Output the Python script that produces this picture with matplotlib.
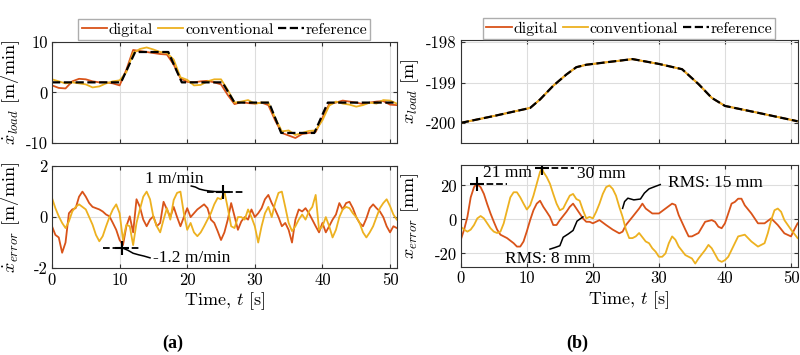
import numpy as np
import matplotlib
matplotlib.use("Agg")
import matplotlib.pyplot as plt

plt.rcParams["font.family"] = "cmr10"
plt.rcParams["font.serif"] = ["Liberation Serif", "DejaVu Serif"]
plt.rcParams["mathtext.fontset"] = "cm"
plt.rcParams["axes.unicode_minus"] = False
plt.rcParams["axes.formatter.use_mathtext"] = False

c_dig = "#D95319"
c_conv = "#EDB120"

# ---- (a) load velocity [m/min] ----
t1 = np.arange(0, 52, 1.0)
vel_dig = [1.4, 0.9, 0.8, 2.2, 2.7, 2.6, 2.2, 2.0, 2.0, 1.8, 1.4, 4.5, 8.4, 8.2, 8.0, 7.8, 7.6, 7.5,
           5.5, 2.8, 2.1, 2.0, 2.2, 2.3, 2.0, 1.6, -0.5, -2.3, -1.9, -2.1, -2.2, -2.0, -2.5, -5.5,
           -8.0, -8.5, -9.0, -8.2, -8.0, -7.8, -5.0, -2.3, -2.0, -1.6, -1.8, -2.0, -2.3, -2.0,
           -1.8, -1.7, -2.4, -2.5]
vel_conv = [2.6, 2.2, 1.8, 2.0, 1.8, 1.6, 1.0, 1.2, 1.8, 2.2, 2.4, 4.0, 7.8, 8.6, 8.9, 8.5, 8.0, 7.8,
            6.5, 3.0, 2.5, 1.4, 1.5, 2.2, 2.6, 2.6, 0.5, -2.0, -1.8, -1.5, -2.2, -2.0, -2.0, -5.0,
            -7.7, -7.5, -8.4, -8.0, -7.6, -7.5, -5.5, -2.6, -1.8, -2.2, -2.4, -2.8, -2.5, -2.0,
            -2.2, -1.5, -1.6, -2.2]
t_ref = [0, 10.2, 12.3, 17.2, 19.2, 25.2, 27.0, 32.1, 33.9, 38.8, 40.8, 51]
vel_ref = [2, 2, 8, 8, 2, 2, -2, -2, -8, -8, -2, -2]

# velocity error [m/min], every 0.5 s
t2 = np.arange(0, 51.5, 0.5)
verr_dig = [-0.36, -0.7, -0.8, -1.4, -1.0, 0.15, 0.3, 0.35, 0.8, 1.0, 0.8, 0.55, 0.4, 0.35, 0.3,
            0.22, 0.1, 0.03, -0.23, -0.5, -0.9, -1.1, -0.36, 0.03, -0.6, 0.7, 0.4, -0.1, -0.36,
            -0.1, 0.03, -0.36, -0.23, 0.6, 0.3, 0.0, 0.4, 0.0, -0.36, 0.0, 0.35, 0.0, 0.15, 0.3,
            0.4, 0.5, 0.35, -0.1, -0.23, -0.55, -0.9, -0.6, -0.1, 0.55, 0.03, -0.5, -0.17, 0.0,
            -0.1, 0.3, 0.0, 0.15, 0.35, 0.7, 0.87, 0.55, 0.3, 0.0, -0.36, -0.23, -0.5, -1.0,
            -0.1, 0.3, 0.22, 0.35, 0.15, -0.1, -0.36, -0.6, -0.23, -0.6, -0.36, -0.1, 0.1, 0.55,
            0.3, 0.55, 0.6, 0.35, 0.0, -0.23, -0.36, -0.05, 0.35, 0.5, 0.35, 0.22, 0.0, -0.36,
            -0.6, -0.36, -0.43]
verr_conv = [0.75, 0.35, 0.03, -0.23, -0.43, -0.17, 0.22, 0.4, 0.5, 0.4, 0.3, 0.0, -0.3, -0.7,
             -0.95, -0.75, -0.36, 0.0, 0.3, 0.5, 0.15, -0.9, -0.3, -0.36, -1.1, -0.23, 0.3, 0.8,
             1.0, 0.7, 0.0, -0.36, -0.6, -0.1, 0.35, -0.1, 0.67, 0.95, 1.0, 0.15, -0.5, -0.23,
             -0.6, -0.75, -0.6, -0.36, -0.1, 0.15, 0.5, 0.75, 0.7, 1.0, 0.35, -0.36, -0.43, 0.0,
             0.0, -0.1, 0.3, 0.0, -0.36, -1.0, -0.36, 0.15, 0.4, 0.0, 0.55, 0.95, 1.0, 0.4, -0.23,
             -0.55, -0.36, -0.1, 0.1, -0.1, 0.22, 0.4, 0.87, -0.5, -0.36, 0.0, -0.36, -0.8, -0.5,
             0.0, 0.3, 0.4, 0.35, 0.15, 0.0, -0.23, -0.6, -0.8, -0.6, -0.36, 0.0, 0.35, 0.55, 0.7,
             0.43, 0.1, -0.1]

# ---- (b) load position [m] ----
t_pos = [0, 5, 10.5, 12, 14, 16, 17.5, 19, 22, 26, 30, 33.5, 36, 38, 40, 45, 51]
pos_ref = [-200.0, -199.83, -199.63, -199.42, -199.08, -198.8, -198.62, -198.56, -198.5, -198.42,
           -198.54, -198.67, -199.04, -199.38, -199.58, -199.75, -199.96]

# position error [mm]
t_perr_dig = [0, 0.5, 1, 1.5, 2, 2.4, 3, 3.5, 4, 4.5, 5, 5.5, 6, 7, 8, 8.5, 9, 9.5, 10, 10.5, 11,
              11.5, 12, 12.5, 13, 13.5, 14, 14.5, 15, 16, 16.5, 17, 17.5, 18, 18.5, 19, 19.5, 20,
              21, 22, 23, 24, 24.5, 25, 26, 27, 27.5, 28, 29, 30, 31, 32, 32.5, 33, 34, 34.5, 35,
              36, 37, 38, 38.5, 39, 39.5, 40, 41, 41.5, 42, 42.5, 43, 44, 45, 46, 47, 48, 49, 50,
              50.5, 51]
perr_dig = [-12, -6, 1.5, 13, 19, 21, 19, 15, 9, 3.5, -1.4, -6, -9, -11, -14, -16, -16, -13, -7,
            -0.4, 5.4, 9.3, 11, 7.4, 4.5, 1.5, -3.3, -3.3, -0.4, 4.5, 7.4, 9.3, 6.4, 3.5, 0.6,
            -1.4, -1.4, -2.3, -0.4, -3.3, -6, -8.2, -7.2, -3.3, 1.5, 6.4, 9.3, 6.4, 3.5, 3.5, 6.4,
            9.3, 8.5, 2.5, -6, -10, -10, -8, -1.4, -0.4, -1.4, -4.3, -5.2, -2.3, 9.3, 10.3, 12.2,
            12.2, 8.3, 3.5, -2.3, -2.3, 0.6, -3.3, -8.2, -10, -6, -2.3]
t_perr_conv = [0, 0.5, 1, 1.5, 2, 2.5, 3, 3.5, 4, 4.5, 5, 5.5, 6, 6.5, 7, 7.5, 8, 8.5, 9, 9.5, 10,
               10.5, 11, 11.5, 12, 12.3, 12.5, 13, 13.5, 14, 14.5, 15, 15.5, 16, 16.5, 17, 17.5,
               18, 18.5, 19, 19.5, 20, 20.5, 21, 21.5, 22, 22.5, 23, 23.5, 24, 24.5, 25, 25.5, 26,
               26.5, 27, 28, 28.5, 29, 29.5, 30, 30.5, 31, 31.5, 32, 32.5, 33, 34, 35, 35.5, 36,
               37, 37.5, 38, 39, 39.5, 40, 40.5, 41, 42, 43, 43.5, 44, 45, 46, 46.5, 47, 47.5, 48,
               48.5, 49, 50, 51]
perr_conv = [-4.3, -6, -7.2, -6, -3.3, 0.6, 2, 0.6, -2.3, -5.2, -7.2, -8, -7.2, -2.3, 5.4, 13, 16,
             16, 13, 9.3, 5.8, 8.3, 14, 21, 28, 30, 28, 25, 21, 15, 9.3, 5.4, 6.4, 10.3, 14, 15,
             12, 11, 5.4, 0.6, 1.5, 0.6, 4.5, 9.3, 15, 19, 20, 18, 14, 7.4, 1.5, -6, -11, -11, -10,
             -8, -13, -14, -17, -19, -22, -22, -20, -14, -10, -12, -16, -21, -23, -26, -23, -18,
             -15, -17, -24, -25, -24, -22, -18, -10, -9, -11, -13, -16, -14, -8, -0.4, 5.4, 6.4,
             4.5, -0.4, -6, -11]

# hand-drawn annotation leaders (data coordinates)
lead_a1_x = [10.3, 11.2, 12.0, 12.8, 13.6, 14.5]
lead_a1_y = [-1.2, -1.3, -1.42, -1.48, -1.53, -1.6]
lead_a2_x = [20.6, 21.2, 21.8, 22.6, 23.4, 24.2, 25.3]
lead_a2_y = [1.22, 1.18, 1.1, 1.05, 1.02, 1.0, 1.0]
lead_b1_x = [13.5, 14.3, 15.0, 15.5, 16.3, 17.0, 17.6, 18.5]
lead_b1_y = [-17.5, -16.5, -15.5, -10.5, -8.5, -6.5, -1.0, 1.5]
lead_b2_x = [24.5, 24.8, 25.3, 26.2, 27.2, 27.8, 28.5, 29.5, 30.2]
lead_b2_y = [6.5, 10.5, 12.5, 11.5, 12.0, 15.5, 18.0, 19.5, 20.5]

fig = plt.figure(figsize=(8, 3.55), dpi=100)
ax1 = fig.add_axes([0.065, 0.597, 0.431, 0.285])
ax2 = fig.add_axes([0.065, 0.245, 0.431, 0.287])
ax3 = fig.add_axes([0.576, 0.597, 0.421, 0.29])
ax4 = fig.add_axes([0.576, 0.248, 0.421, 0.287])

lw = 1.3
for ax in (ax1, ax2, ax3, ax4):
    ax.grid(True, color="#dddddd", lw=0.8)
    ax.set_axisbelow(True)
    ax.tick_params(direction="in", top=True, right=True, labelsize=12, length=3, pad=3,
                   color="#333333")
    ax.set_xlim(0, 51)
    ax.set_xticks([0, 10, 20, 30, 40, 50])
    for s in ax.spines.values():
        s.set_color("#333333")
        s.set_linewidth(0.8)

ann = dict(fontsize=12.5, family="serif", va="center")
leg = dict(loc="lower center", ncol=3, fontsize=11.5, frameon=True, fancybox=False,
           edgecolor="#999999", handlelength=1.6, handletextpad=0.1, columnspacing=0.3,
           borderpad=0.2, borderaxespad=0)

ax1.plot(t1, vel_dig, color=c_dig, lw=lw, label="digital")
ax1.plot(t1, vel_conv, color=c_conv, lw=lw, label="conventional")
ax1.plot(t_ref, vel_ref, "k--", lw=1.6, label="reference")
ax1.set_ylim(-10, 10)
ax1.set_yticks([-10, 0, 10])
ax1.set_xticklabels([])
ax1.set_ylabel(r"$\dot{x}_{load}$ [m/min]", fontsize=13)
ax1.yaxis.set_label_coords(-0.088, 0.5)
ax1.legend(bbox_to_anchor=(0.5, 1.02), **leg)

ax2.plot(t2, verr_dig, color=c_dig, lw=lw)
ax2.plot(t2, verr_conv, color=c_conv, lw=lw)
ax2.set_ylim(-2, 2)
ax2.set_yticks([-2, 0, 2])
ax2.set_ylabel(r"$\dot{x}_{error}$ [m/min]", fontsize=13)
ax2.yaxis.set_label_coords(-0.088, 0.5)
ax2.set_xlabel(r"Time, $t$ [s]", fontsize=13, labelpad=2)
ax2.plot([7.6, 13.2], [-1.2, -1.2], "k--", lw=1.3)
ax2.plot([10.3], [-1.2], "k+", ms=10, mew=1.5)
ax2.plot(lead_a1_x, lead_a1_y, "k-", lw=1.1)
ax2.text(15.0, -1.6, "-1.2 m/min", **ann)
ax2.plot([23.0, 28.4], [1.0, 1.0], "k--", lw=1.3)
ax2.plot([25.3], [1.0], "k+", ms=10, mew=1.5)
ax2.plot(lead_a2_x, lead_a2_y, "k-", lw=1.1)
ax2.text(13.8, 1.5, "1 m/min", **ann)

ax3.plot(t_pos, pos_ref, color=c_dig, lw=lw, label="digital")
ax3.plot(t_pos, pos_ref, color=c_conv, lw=lw, label="conventional")
ax3.plot(t_pos, pos_ref, "k--", lw=1.6, label="reference")
ax3.set_ylim(-200.5, -197.95)
ax3.set_yticks([-200, -199, -198])
ax3.set_xticklabels([])
ax3.set_ylabel(r"$x_{load}$ [m]", fontsize=13)
ax3.yaxis.set_label_coords(-0.118, 0.5)
ax3.legend(bbox_to_anchor=(0.5, 1.01), **leg)

ax4.plot(t_perr_dig, perr_dig, color=c_dig, lw=lw)
ax4.plot(t_perr_conv, perr_conv, color=c_conv, lw=lw)
ax4.set_ylim(-28, 32)
ax4.set_yticks([-20, 0, 20])
ax4.set_ylabel(r"$x_{error}$ [mm]", fontsize=13)
ax4.yaxis.set_label_coords(-0.118, 0.5)
ax4.set_xlabel(r"Time, $t$ [s]", fontsize=13, labelpad=2)
ax4.plot([2.4, 7.0], [21, 21], "k--", lw=1.3)
ax4.plot([2.4], [21], "k+", ms=10, mew=1.5)
ax4.text(3.4, 27.5, "21 mm", **ann)
ax4.plot([12.3, 17.2], [30, 30], "k--", lw=1.3)
ax4.plot([12.3], [30], "k+", ms=10, mew=1.5)
ax4.text(17.6, 27, "30 mm", **ann)
ax4.plot(lead_b1_x, lead_b1_y, "k-", lw=1.1)
ax4.text(6.7, -23.5, "RMS: 8 mm", **ann)
ax4.plot(lead_b2_x, lead_b2_y, "k-", lw=1.1)
ax4.text(31.4, 21.5, "RMS: 15 mm", **ann)

fig.text(0.216, 0.02, "(a)", fontsize=13, fontweight="bold", family="serif", ha="center")
fig.text(0.722, 0.02, "(b)", fontsize=13, fontweight="bold", family="serif", ha="center")

fig.savefig("out.png", dpi=100)
